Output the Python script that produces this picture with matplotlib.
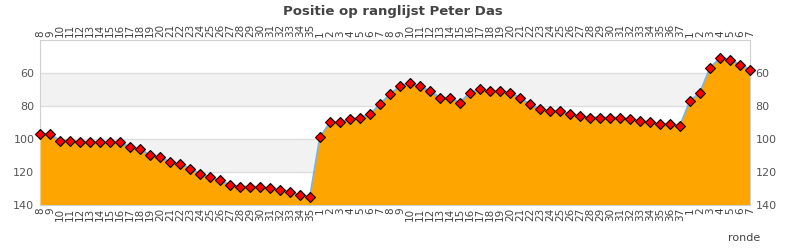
import numpy as np
import matplotlib
matplotlib.use("Agg")
import matplotlib.pyplot as plt

# rounds over three seasons
rondes = [str(r) for r in range(8, 36)] + [str(r) for r in range(1, 38)] + [str(r) for r in range(1, 8)]

# ranking position per round
positie = [97, 97, 101, 101, 102, 102, 102, 102, 102, 105, 106, 110, 111, 114,
           115, 118, 121, 123, 125, 128, 129, 129, 129, 130, 131, 132, 134, 135,
           99, 90, 90, 88, 87, 85, 79, 73, 68, 66, 68, 71, 75, 75, 78, 72, 70,
           71, 71, 72, 75, 79, 82, 83, 83, 85, 86, 87, 87, 87, 87, 88, 89, 90,
           91, 91, 92,
           77, 72, 57, 51, 52, 55, 58]

x = np.arange(len(positie))

fig = plt.figure(figsize=(7.9, 2.5), dpi=100)
ax = fig.add_axes([40 / 790, 1 - 205 / 250, 710 / 790, 165 / 250])

# alternating bands
ax.axhspan(60, 80, color="#f2f2f2", zorder=0, lw=0)
ax.axhspan(100, 120, color="#f2f2f2", zorder=0, lw=0)
for y in [60, 80, 100, 120]:
    ax.axhline(y, color="#dddddd", lw=1, zorder=1)

ax.fill_between(x, positie, 140, color="#ffa500", lw=0, zorder=2)
ax.plot(x, positie, color="#7fb2e5", lw=1.5, zorder=3)
ax.plot(x, positie, ls="none", marker="D", ms=5.5, mfc="#ff0000", mec="black",
        mew=0.8, zorder=4, clip_on=False)

ax.set_xlim(0, len(positie) - 1)
ax.set_ylim(140, 40)
ax.set_yticks([60, 80, 100, 120, 140])
ax.set_xticks(x)
ax.set_xticklabels(rondes, rotation=90, fontsize=7.5, color="#444444")
ax.tick_params(axis="x", length=0, pad=2, labeltop=True, top=False)
ax.tick_params(axis="y", length=0, pad=4, labelsize=8, labelcolor="#555555",
               labelright=True)
for s in ax.spines.values():
    s.set_color("#d0d0d0")

fig.text(393 / 790, 1 - 11 / 250, "Positie op ranglijst Peter Das",
         ha="center", va="center", fontsize=9.5, fontweight="bold", color="#444444",
         family=["Liberation Sans Narrow", "DejaVu Sans"])
fig.text(760 / 790, 1 - 238 / 250, "ronde", ha="right", va="center",
         fontsize=8, color="#444444")

fig.savefig("out.png", dpi=100)
